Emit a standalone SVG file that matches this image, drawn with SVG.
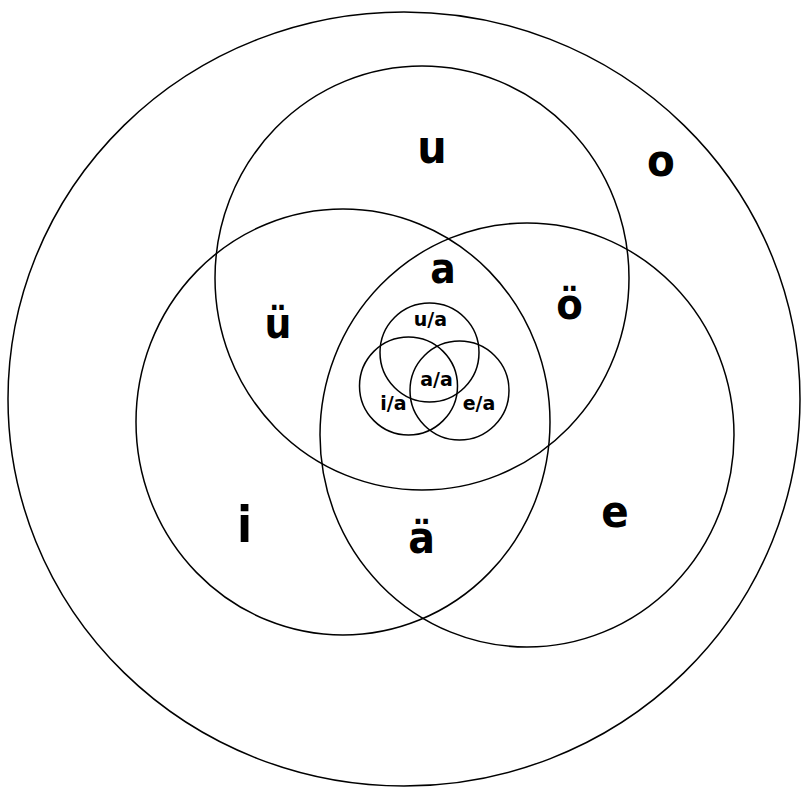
<svg xmlns="http://www.w3.org/2000/svg" width="804" height="787" viewBox="0 0 804 787">
<style>
.c{fill:none;stroke:#000;stroke-width:1.5}
.big{font-family:"DejaVu Sans Condensed","DejaVu Sans","Liberation Sans",sans-serif;font-stretch:condensed;font-weight:bold;text-anchor:middle;fill:#000}
.sm{font-family:"DejaVu Sans","Liberation Sans",sans-serif;font-weight:bold;text-anchor:middle;fill:#000;font-size:19px}
</style>
<rect width="804" height="787" fill="#fff"/>
<g id="outer"><ellipse class="c" cx="404" cy="399" rx="396" ry="387"/><text class="big" x="661" y="176" font-size="45">o</text></g>
<g id="top"><ellipse class="c" cx="422" cy="278" rx="207" ry="212"/><text class="big" x="432" y="163" font-size="46">u</text></g>
<g id="left"><ellipse class="c" cx="343" cy="422" rx="207" ry="213"/><text class="big" x="244.5" y="542" font-size="49">i</text></g>
<g id="right"><ellipse class="c" cx="527" cy="435" rx="207" ry="212"/><text class="big" x="615" y="527" font-size="45">e</text></g>
<g id="ue"><text class="big" x="278" y="338" font-size="42">ü</text></g>
<g id="oe"><text class="big" x="569.5" y="319" font-size="43">ö</text></g>
<g id="ae"><text class="big" x="421.5" y="553" font-size="44">ä</text></g>
<g id="a"><text class="big" x="443" y="283" font-size="42">a</text></g>
<g id="ua"><circle class="c" cx="429.5" cy="352.5" r="49.5"/><text class="sm" x="430.5" y="326">u/a</text></g>
<g id="ia"><circle class="c" cx="408.5" cy="386" r="49"/><text class="sm" x="393.5" y="410">i/a</text></g>
<g id="ea"><circle class="c" cx="459.5" cy="390.5" r="49.5"/><text class="sm" x="479" y="410">e/a</text></g>
<g id="aa"><text class="sm" x="436.5" y="386">a/a</text></g>
<g id="connectors"></g>
</svg>
